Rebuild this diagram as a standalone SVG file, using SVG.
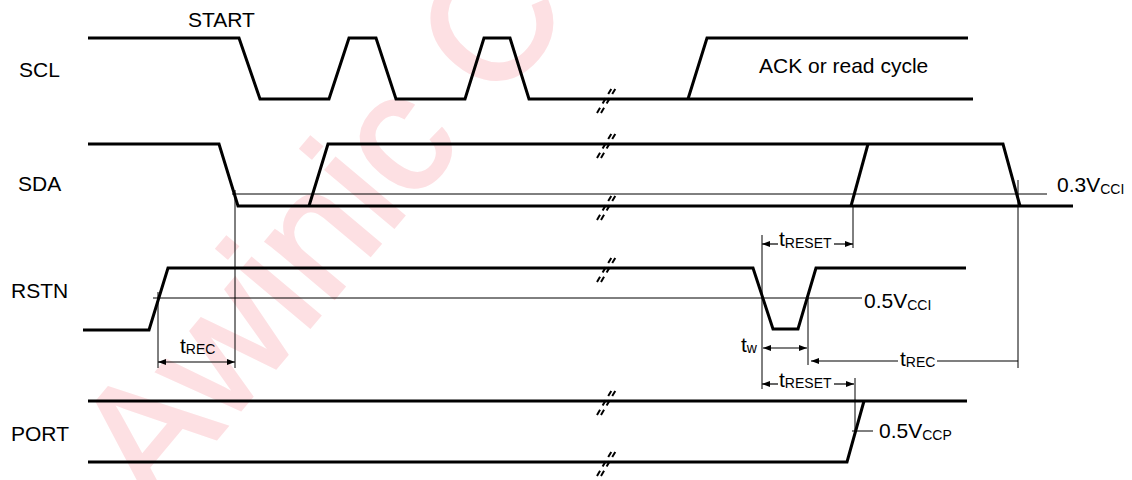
<svg xmlns="http://www.w3.org/2000/svg" width="1132" height="480" viewBox="0 0 1132 480">
<style>
.wm{font-family:"Liberation Sans",Arial,sans-serif;font-size:168px;fill:#fde0e3;stroke:#fde0e3;stroke-width:3}
.sig{fill:none;stroke:#000;stroke-width:3;stroke-linejoin:miter}
.thin{fill:none;stroke:#000;stroke-width:1}
.arr{fill:none;stroke:#000;stroke-width:1.2}
.lbl{font-family:"Liberation Sans",Arial,sans-serif;font-size:21px;fill:#000}
.sub{font-size:14px}
.brk{fill:none;stroke:#000;stroke-width:2;stroke-dasharray:6 5}
</style>
<defs>
<marker id="ah" viewBox="0 0 8 6" refX="8" refY="3" markerWidth="8" markerHeight="6" markerUnits="userSpaceOnUse" orient="auto-start-reverse">
<path d="M0,0 L8,3 L0,6 z" fill="#000"/>
</marker>
<g id="br">
<line class="brk" x1="-10" y1="14" x2="6" y2="-13"/>
<line class="brk" x1="-6" y1="14" x2="10" y2="-13"/>
</g>
</defs>
<text class="wm" transform="translate(155,512) rotate(-50)">Awinic C</text>

<g id="SCL">
<text class="lbl" x="19" y="77">SCL</text>
<text class="lbl" x="188" y="27">START</text>
<path class="sig" d="M88,38 H239 L260,99 H329 L349,38 H376 L396,99 H465 L484,38 H510 L529,99 H973"/>
<path class="sig" d="M688,99 L707,38 H968"/>
<text class="lbl" x="759" y="73">ACK or read cycle</text>
</g>

<g id="SDA">
<text class="lbl" x="18" y="191">SDA</text>
<path class="sig" d="M88,144 H219 L238,206 H1073"/>
<path class="sig" d="M309,206 L328,144 H1003 L1020,206"/>
<path class="sig" d="M851,206 L868,144"/>
<text class="lbl" x="1057" y="192">0.3V<tspan class="sub" dy="2">CCI</tspan></text>
</g>

<g id="RSTN">
<text class="lbl" x="11" y="298">RSTN</text>
<path class="sig" d="M83,330 H149 L168,268 H753 L773,329 H798 L816,268 H966"/>
<text class="lbl" x="864" y="308">0.5V<tspan class="sub" dy="2">CCI</tspan></text>
</g>

<g id="PORT">
<text class="lbl" x="11" y="441">PORT</text>
<path class="sig" d="M88,401 H967"/>
<path class="sig" d="M88,462 H847 L864,401"/>
<text class="lbl" x="879" y="438">0.5V<tspan class="sub" dy="2">CCP</tspan></text>
</g>

<g id="breaks">
<use href="#br" x="607" y="99"/>
<use href="#br" x="607" y="144"/>
<use href="#br" x="607" y="206"/>
<use href="#br" x="607" y="268"/>
<use href="#br" x="607" y="401"/>
<use href="#br" x="607" y="462"/>
</g>

<g id="connectors">
<path class="thin" d="M232,194 H1047"/>
<path class="thin" d="M153,298 H862"/>
<path class="thin" d="M235,190 V368"/>
<path class="thin" d="M158,292 V368"/>
<path class="thin" d="M1018,180 V368"/>
<path class="thin" d="M853,205 V248"/>
<path class="thin" d="M762,235 V389"/>
<path class="thin" d="M808,298 V365"/>
<path class="thin" d="M855,378 V432"/>
<path class="thin" d="M852,431 H873"/>
<path class="arr" d="M158,362 H235" marker-start="url(#ah)" marker-end="url(#ah)"/>
<path class="arr" d="M778,244 H762" marker-end="url(#ah)"/>
<path class="arr" d="M834,244 H853" marker-end="url(#ah)"/>
<path class="arr" d="M763,348 H807" marker-start="url(#ah)" marker-end="url(#ah)"/>
<path class="arr" d="M898,361 H811" marker-end="url(#ah)"/>
<path class="arr" d="M937,361 H1018"/>
<path class="arr" d="M778,384 H762" marker-end="url(#ah)"/>
<path class="arr" d="M834,384 H854" marker-end="url(#ah)"/>
</g>

<g id="timing-labels">
<text class="lbl" x="180" y="353">t<tspan class="sub" dy="1">REC</tspan></text>
<text class="lbl" x="779" y="246">t<tspan class="sub" dy="2">RESET</tspan></text>
<text class="lbl" x="741" y="352">t<tspan class="sub" dy="1">w</tspan></text>
<text class="lbl" x="900" y="366">t<tspan class="sub" dy="1">REC</tspan></text>
<text class="lbl" x="779" y="387">t<tspan class="sub" dy="1">RESET</tspan></text>
</g>
</svg>
